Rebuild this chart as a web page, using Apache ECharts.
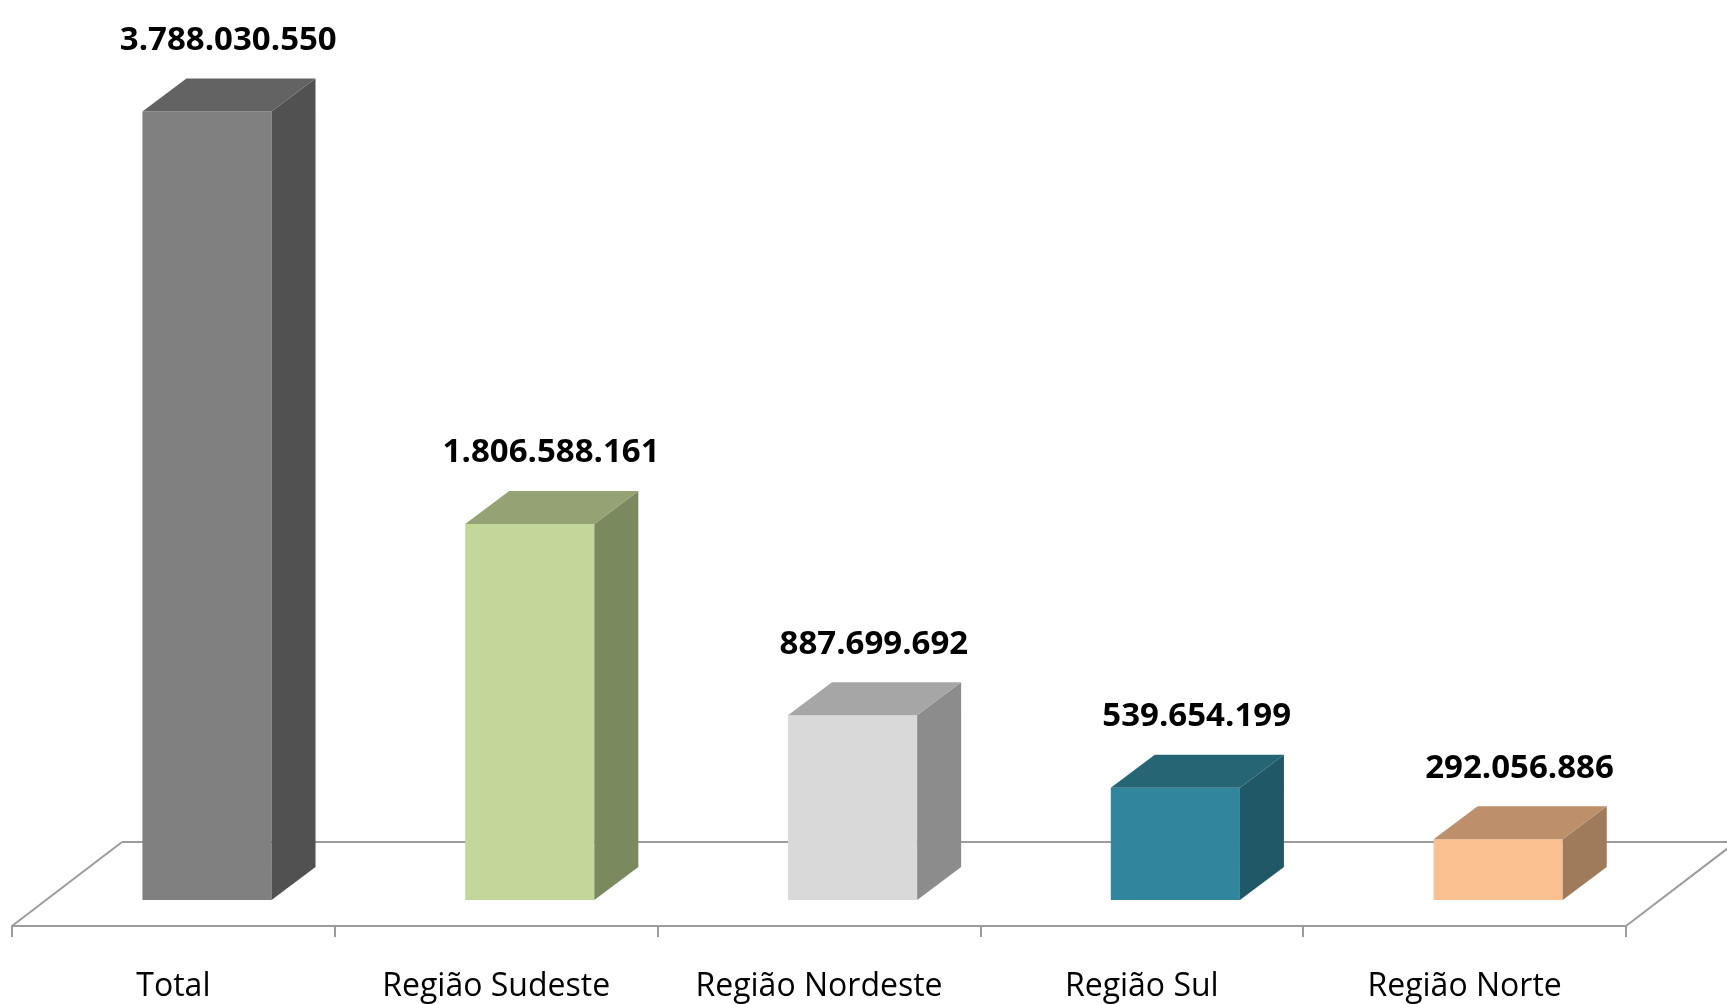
<!DOCTYPE html>
<html>
<head>
<meta charset="utf-8">
<script src="https://cdn.jsdelivr.net/npm/echarts@6/dist/echarts.min.js"></script>
<style>
html,body{margin:0;padding:0;background:#fff;}
#chart{width:1727px;height:1004px;}
</style>
</head>
<body>
<div id="chart"></div>
<script>
const categories = ['Total', 'Região Sudeste', 'Região Nordeste', 'Região Sul', 'Região Norte'];
const values = [3788030550, 1806588161, 887699692, 539654199, 292056886];
const frontColors = ['#808080', '#c4d79b', '#d9d9d9', '#31859c', '#fac090'];
const sideColors = ['#515151', '#7b8a5e', '#8c8c8c', '#215867', '#a07b5b'];
const topColors = ['#636363', '#95a374', '#a6a6a6', '#266574', '#bd8f6b'];

function fmt(v) { return String(v).replace(/\B(?=(\d{3})+(?!\d))/g, '.'); }

const chart = echarts.init(document.getElementById('chart'), null, {renderer: 'canvas'});
const LINE = '#9c9c9c';

const option = {
  backgroundColor: '#ffffff',
  animation: false,
  grid: {left: 12, right: 101, top: 67.5, bottom: 104, containLabel: false},
  xAxis: {
    type: 'category',
    data: categories,
    offset: 26,
    boundaryGap: true,
    axisLine: {show: true, onZero: false, lineStyle: {color: LINE, width: 2}},
    axisTick: {show: true, length: 11, lineStyle: {color: LINE, width: 2}},
    axisLabel: {margin: 45, color: '#000', fontFamily: 'Open Sans', fontSize: 32}
  },
  yAxis: {
    type: 'value', min: 0, max: 4000000000, show: false,
    splitLine: {show: false}
  },
  series: [
    {
      type: 'custom',
      z: 1,
      silent: true,
      clip: false,
      data: [[0, 0]],
      renderItem: function (params, api) {
        const cs = params.coordSys;
        const fy = cs.y + cs.height + 26;
        const dx = 110, dy = -84;
        const x0 = cs.x, x1 = cs.x + cs.width;
        const style = {stroke: LINE, lineWidth: 2, fill: null};
        return {
          type: 'group',
          children: [
            {type: 'line', shape: {x1: x0, y1: fy, x2: x0 + dx, y2: fy + dy}, style: style},
            {type: 'line', shape: {x1: x0 + dx, y1: fy + dy, x2: x1 + dx, y2: fy + dy}, style: style},
            {type: 'line', shape: {x1: x1, y1: fy, x2: x1 + dx, y2: fy + dy}, style: style}
          ]
        };
      }
    },
    {
      type: 'custom',
      z: 2,
      clip: false,
      data: values.map((v, i) => [i, v]),
      renderItem: function (params, api) {
        const i = api.value(0);
        const v = api.value(1);
        const top = api.coord([i, v]);
        const base = api.coord([i, 0]);
        const bw = api.size([1, 0])[0];
        const fl = top[0] - bw * 0.096;
        const w = bw * 0.4;
        const fr = fl + w;
        const ddx = 44, ddy = -33;
        const ty = top[1], by = base[1];
        return {
          type: 'group',
          children: [
            {type: 'rect', shape: {x: fl, y: ty, width: w, height: by - ty}, style: {fill: frontColors[i]}},
            {type: 'polygon', shape: {points: [[fr, by], [fr + ddx, by + ddy], [fr + ddx, ty + ddy], [fr, ty]]}, style: {fill: sideColors[i]}},
            {type: 'polygon', shape: {points: [[fl, ty], [fl + ddx, ty + ddy], [fr + ddx, ty + ddy], [fr, ty]]}, style: {fill: topColors[i]}},
            {type: 'text', style: {
              x: top[0] + bw * 0.17, y: ty + ddy - 38,
              text: fmt(values[i]), fill: '#000',
              font: 'bold 33px "Open Sans"',
              align: 'center', verticalAlign: 'middle'
            }}
          ]
        };
      }
    }
  ]
};
chart.setOption(option);
</script>
</body>
</html>
